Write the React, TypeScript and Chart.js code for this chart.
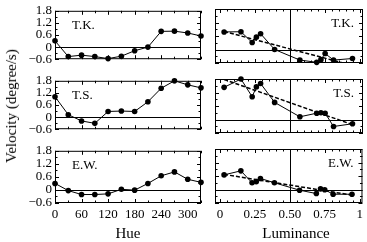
import React, { useEffect, useRef } from "react";
import { Chart, registerables } from "chart.js";

Chart.register(...registerables);

const FONT = '"Liberation Serif", "Times New Roman", Times, serif';

// ---- data ----
const subjects = ["T.K.", "T.S.", "E.W."];
const hues = [0, 30, 60, 90, 120, 150, 180, 210, 240, 270, 300, 330];
const hueLuminance = [0.23, 0.57, 0.945, 0.81, 0.69, 0.72, 0.75, 0.39, 0.03, 0.15, 0.29, 0.26];
const velocityTK = [0.31, -0.47, -0.4, -0.47, -0.57, -0.45, -0.18, 0.0, 0.78, 0.79, 0.7, 0.55];
const velocityTS = [1.01, 0.12, -0.19, -0.31, 0.28, 0.3, 0.28, 0.76, 1.43, 1.8, 1.6, 1.45];
const velocityEW = [0.3, -0.03, -0.21, -0.21, -0.18, 0.03, -0.01, 0.3, 0.65, 0.83, 0.49, 0.35];
const fitLuminance = [0.03, 0.945];
const fitTK = [0.8, -0.71];
const fitTS = [1.78, -0.23];
const fitEW = [0.67, -0.25];
const hueTicks = [0, 60, 120, 180, 240, 300];
const luminanceTicks = [0, 0.25, 0.5, 0.75, 1];
const velocityTicks = [-0.6, 0, 0.6, 1.2, 1.8];

const velocities = [velocityTK, velocityTS, velocityEW];
const fits = [fitTK, fitTS, fitEW];

type Kind = "hue" | "lum";

function fmtVel(v: number) {
  if (Math.abs(v) < 1e-9) return "0";
  return v < 0 ? "\u2212" + Math.abs(v).toFixed(1) : v.toFixed(1);
}
function fmtLum(v: number) {
  if (Math.abs(v) < 1e-9) return "0";
  if (Math.abs(v - 1) < 1e-9) return "1";
  return v.toFixed(2);
}

function decorPlugin(label: string, kind: Kind) {
  return {
    id: "panelDecor",
    beforeDatasetsDraw(chart: any) {
      const { ctx, chartArea: a, scales } = chart;
      const x = scales.x, y = scales.y;
      ctx.save();
      ctx.strokeStyle = "#000";
      ctx.lineWidth = 1;
      ctx.beginPath();
      const y0 = Math.round(y.getPixelForValue(0)) + 0.5;
      ctx.moveTo(a.left, y0);
      ctx.lineTo(a.right, y0);
      if (kind === "lum") {
        const xm = Math.round(x.getPixelForValue(0.5)) + 0.5;
        ctx.moveTo(xm, a.top);
        ctx.lineTo(xm, a.bottom);
      }
      ctx.stroke();
      ctx.restore();
    },
    afterDraw(chart: any) {
      const { ctx, chartArea: a, scales } = chart;
      const x = scales.x, y = scales.y;
      ctx.save();
      ctx.strokeStyle = "#000";
      ctx.lineWidth = 1;
      ctx.strokeRect(a.left + 0.5, a.top + 0.5, a.right - a.left - 1, a.bottom - a.top - 1);
      ctx.beginPath();
      const xMinor = kind === "hue" ? 30 : 0.05;
      const xRatio = kind === "hue" ? 2 : 5;
      const iMin = Math.ceil(x.min / xMinor - 1e-6);
      const iMax = Math.floor(x.max / xMinor + 1e-6);
      for (let i = iMin; i <= iMax; i++) {
        const px = Math.round(x.getPixelForValue(i * xMinor)) + 0.5;
        const len = i % xRatio === 0 ? 4 : 2.5;
        ctx.moveTo(px, a.bottom);
        ctx.lineTo(px, a.bottom - len);
        ctx.moveTo(px, a.top);
        ctx.lineTo(px, a.top + len);
      }
      const yMinor = 0.3;
      const jMin = Math.ceil(y.min / yMinor - 1e-6);
      const jMax = Math.floor(y.max / yMinor + 1e-6);
      for (let j = jMin; j <= jMax; j++) {
        const py = Math.round(y.getPixelForValue(j * yMinor)) + 0.5;
        const len = j % 2 === 0 ? 4 : 2.5;
        ctx.moveTo(a.left, py);
        ctx.lineTo(a.left + len, py);
        ctx.moveTo(a.right, py);
        ctx.lineTo(a.right - len, py);
      }
      ctx.stroke();
      ctx.fillStyle = "#000";
      ctx.font = `13px ${FONT}`;
      ctx.textBaseline = "middle";
      if (kind === "hue") {
        ctx.textAlign = "left";
        ctx.fillText(label, a.left + 17, a.top + 15);
      } else {
        ctx.textAlign = "right";
        ctx.fillText(label, a.right - 9, a.top + 15);
      }
      ctx.restore();
    },
  };
}

function Panel({ kind, row }: { kind: Kind; row: number }) {
  const ref = useRef<HTMLCanvasElement>(null);
  const isBottom = row === 2;
  const width = kind === "hue" ? 205 : 157;
  const height = isBottom ? 102 : 70;
  const left = kind === "hue" ? 0 : 210;
  const top = row * 70;

  useEffect(() => {
    const vel = velocities[row];
    let mainData: { x: number; y: number }[];
    if (kind === "hue") {
      mainData = hues.map((h, i) => ({ x: h, y: vel[i] }));
    } else {
      mainData = hueLuminance
        .map((l, i) => ({ x: l, y: vel[i] }))
        .sort((p, q) => p.x - q.x);
    }
    const datasets: any[] = [
      {
        data: mainData,
        showLine: true,
        borderColor: "#000",
        backgroundColor: "#000",
        borderWidth: 1,
        pointRadius: 2.8,
        pointBorderWidth: 0,
        pointBackgroundColor: "#000",
        clip: false,
        order: 1,
      },
    ];
    if (kind === "lum") {
      const f = fits[row];
      datasets.push({
        data: fitLuminance.map((l, i) => ({ x: l, y: f[i] })),
        showLine: true,
        borderColor: "#000",
        borderWidth: 1.5,
        borderDash: [4, 2],
        pointRadius: 0,
        order: 2,
      });
    }
    const tickFont = { family: FONT, size: 13 };
    const showX = isBottom;
    const showY = kind === "hue";
    const chart = new Chart(ref.current as HTMLCanvasElement, {
      type: "scatter",
      data: { datasets },
      options: {
        animation: false,
        responsive: false,
        maintainAspectRatio: false,
        events: [],
        layout: {
          autoPadding: false,
          padding: {
            left: kind === "hue" ? 0 : 5,
            right: 4,
            top: 9,
            bottom: isBottom ? 0 : 7,
          },
        },
        plugins: { legend: { display: false }, tooltip: { enabled: false } },
        scales: {
          x: {
            type: "linear",
            min: kind === "hue" ? 0 : -0.035,
            max: kind === "hue" ? 330 : 1.02,
            display: showX,
            grid: { display: false, drawTicks: false },
            border: { display: false },
            afterBuildTicks: (s: any) => {
              s.ticks = (kind === "hue" ? hueTicks : luminanceTicks).map((v) => ({ value: v }));
            },
            afterFit: (s: any) => {
              s.height = showX ? 39 : 0;
            },
            ticks: {
              font: tickFont,
              color: "#000",
              padding: 4,
              maxRotation: 0,
              autoSkip: false,
              callback: (v: any) => (kind === "hue" ? String(v) : fmtLum(Number(v))),
            },
          },
          y: {
            type: "linear",
            min: -0.6,
            max: 1.8,
            display: showY,
            grid: { display: false, drawTicks: false },
            border: { display: false },
            afterBuildTicks: (s: any) => {
              s.ticks = velocityTicks.map((v) => ({ value: v }));
            },
            afterFit: (s: any) => {
              s.width = showY ? 55 : 0;
            },
            ticks: {
              font: tickFont,
              color: "#000",
              padding: 3,
              autoSkip: false,
              callback: (v: any) => fmtVel(Number(v)),
            },
          },
        },
      } as any,
      plugins: [decorPlugin(subjects[row], kind) as any],
    });
    return () => chart.destroy();
  }, [kind, row]);

  return (
    <canvas
      ref={ref}
      width={width}
      height={height}
      style={{ position: "absolute", left, top, width, height }}
    />
  );
}

export default function App() {
  const textStyle: React.CSSProperties = {
    position: "absolute",
    fontFamily: FONT,
    fontSize: 15,
    color: "#000",
    whiteSpace: "nowrap",
    lineHeight: "18px",
    transform: "translate(-50%, -50%)",
  };
  return (
    <div style={{ position: "absolute", left: 0, top: 0, width: 367, height: 242, background: "#fff" }}>
      {[0, 1, 2].map((r) => (
        <React.Fragment key={r}>
          <Panel kind="hue" row={r} />
          <Panel kind="lum" row={r} />
        </React.Fragment>
      ))}
      <div style={{ ...textStyle, left: 11, top: 106, transform: "translate(-50%, -50%) rotate(-90deg)" }}>
        Velocity (degree/s)
      </div>
      <div style={{ ...textStyle, left: 128, top: 233 }}>Hue</div>
      <div style={{ ...textStyle, left: 296, top: 233 }}>Luminance</div>
    </div>
  );
}
